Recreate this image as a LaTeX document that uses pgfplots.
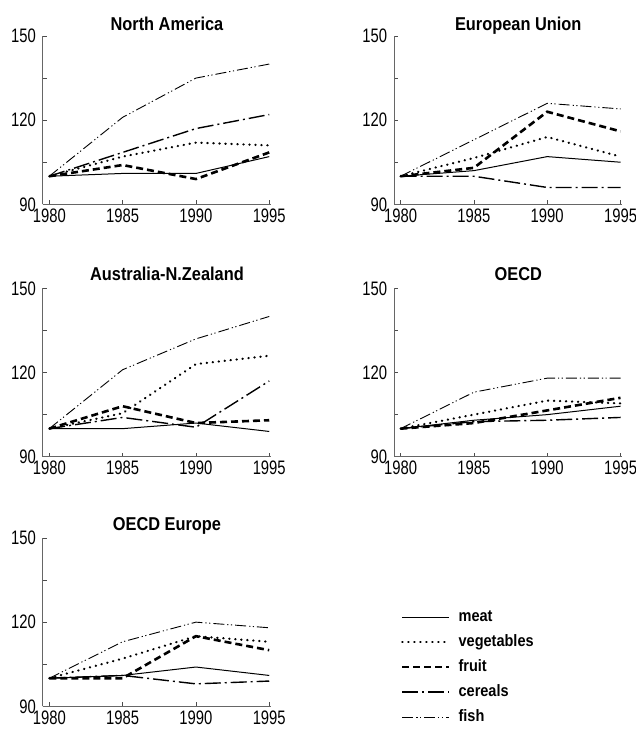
\documentclass[border=0pt]{standalone}
\usepackage{fontspec}
\setmainfont{Liberation Sans}[FakeStretch=0.88]
\newfontfamily\tickfont{Liberation Sans}[FakeStretch=0.76]
\usepackage{pgfplots}
\pgfplotsset{compat=1.18}
\pgfplotsset{
 meat/.style={black, line width=1pt, solid},
 veg/.style={black, line width=2.3pt, line cap=round, dash pattern=on 0.3pt off 5.7pt},
 fruit/.style={black, line width=2.6pt, dash pattern=on 7pt off 4pt},
 cereals/.style={black, line width=1.4pt, dash pattern=on 16pt off 4pt on 2pt off 4pt},
 fish/.style={black, line width=0.9pt, dash pattern=on 11pt off 3pt on 1.2pt off 2.5pt on 1.2pt off 3pt},
 panel/.style={
  scale only axis, width=228pt, height=168.3pt,
  xmin=1979.55, xmax=1995.1, ymin=90, ymax=150,
  axis x line=bottom, axis y line=left,
  axis line style={-, draw=black!60, line width=0.9pt},
  xtick={1980,1985,1990,1995}, xticklabels={1980,1985,1990,1995},
  ytick={90,105,120,135,150}, yticklabels={90,,120,,150},
  tick align=inside, major tick length=4pt,
  tick style={black!70, line width=0.7pt},
  tick label style={font=\tickfont\fontsize{19.5}{19.5}\selectfont, inner sep=0pt},
  xticklabel style={yshift=-4.3pt},
  yticklabel style={xshift=-6.7pt},
  title style={font=\bfseries\fontsize{18.6}{19}\selectfont, at={(0.545,1)}, anchor=base},
  clip=false,
 },
}
\begin{document}
\begin{tikzpicture}
\useasboundingbox (0pt,0pt) rectangle (636pt,729pt);
% North America
\begin{axis}[panel, at={(42.7pt,524.7pt)}, anchor=south west, title={North America}]
\addplot[meat] coordinates {(1980,100) (1985,101) (1990,101) (1995,107)};
\addplot[veg] coordinates {(1980,100) (1985,107) (1990,112) (1995,111)};
\addplot[fruit] coordinates {(1980,100) (1985,104) (1990,99) (1995,108.5)};
\addplot[cereals] coordinates {(1980,100) (1985,108.5) (1990,117) (1995,122)};
\addplot[fish] coordinates {(1980,100) (1985,121) (1990,135) (1995,140)};
\end{axis}
% European Union
\begin{axis}[panel, at={(394pt,524.7pt)}, anchor=south west, title={European Union}]
\addplot[meat] coordinates {(1980,100) (1985,102) (1990,107) (1995,105)};
\addplot[veg] coordinates {(1980,100) (1985,106.5) (1990,114) (1995,107)};
\addplot[fruit] coordinates {(1980,100) (1985,103) (1990,123) (1995,116)};
\addplot[cereals] coordinates {(1980,100) (1985,100) (1990,96) (1995,96)};
\addplot[fish] coordinates {(1980,100) (1985,113) (1990,126) (1995,124)};
\end{axis}
% Australia-N.Zealand
\begin{axis}[panel, at={(42.7pt,272.3pt)}, anchor=south west, title={Australia-N.Zealand}, title style={yshift=2pt}]
\addplot[meat] coordinates {(1980,100) (1985,100) (1990,102) (1995,99)};
\addplot[veg] coordinates {(1980,100) (1985,105.5) (1990,123) (1995,126)};
\addplot[fruit] coordinates {(1980,100) (1985,108) (1990,102) (1995,103)};
\addplot[cereals] coordinates {(1980,100) (1985,104) (1990,100.5) (1995,117)};
\addplot[fish] coordinates {(1980,100) (1985,121) (1990,132) (1995,140)};
\end{axis}
% OECD
\begin{axis}[panel, at={(394pt,272.3pt)}, anchor=south west, title={OECD}, title style={yshift=2pt}]
\addplot[meat] coordinates {(1980,100) (1985,103) (1990,105) (1995,108)};
\addplot[veg] coordinates {(1980,100) (1985,105) (1990,110) (1995,109)};
\addplot[fruit] coordinates {(1980,100) (1985,102) (1990,106.5) (1995,111)};
\addplot[cereals] coordinates {(1980,100) (1985,102.5) (1990,103) (1995,104)};
\addplot[fish] coordinates {(1980,100) (1985,113) (1990,118) (1995,118)};
\end{axis}
% OECD Europe
\begin{axis}[panel, at={(42.7pt,22.7pt)}, anchor=south west, title={OECD Europe}, title style={yshift=1.3pt},
  legend style={draw=none, fill=none, at={(axis description cs:1.5715,0.578)}, anchor=north west,
    inner sep=0pt, outer sep=0pt, row sep=9pt, column sep=8pt,
    font=\bfseries\fontsize{16.5}{16.5}\selectfont,
    nodes={inner sep=0pt, text height=12pt, text depth=4pt}},
  legend cell align=left,
  legend image code/.code={\draw[#1] (0pt,0pt) -- (47pt,0pt);}]
\addplot[meat] coordinates {(1980,100) (1985,101) (1990,104) (1995,101)};
\addplot[veg] coordinates {(1980,100) (1985,107) (1990,115) (1995,113)};
\addplot[fruit] coordinates {(1980,100) (1985,100) (1990,115) (1995,110)};
\addplot[cereals] coordinates {(1980,100) (1985,101) (1990,98) (1995,99)};
\addplot[fish] coordinates {(1980,100) (1985,113) (1990,120) (1995,118)};
\legend{meat,vegetables,fruit,cereals,fish}
\end{axis}
\end{tikzpicture}
\end{document}
